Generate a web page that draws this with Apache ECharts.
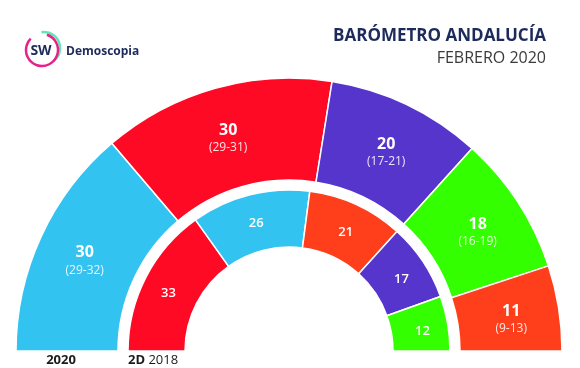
<!DOCTYPE html>
<html>
<head>
<meta charset="utf-8">
<script src="https://cdn.jsdelivr.net/npm/echarts@6/dist/echarts.min.js"></script>
<style>
html,body{margin:0;padding:0;background:#fff;}
#c{width:580px;height:368px;}
</style>
</head>
<body>
<div id="c"></div>
<script>
// 2020 (outer ring)
var parties2020 = ['PP', 'PSOE', 'Adelante Andalucía', 'Vox', 'Cs'];
var seats2020 = [30, 30, 20, 18, 11];
var ranges2020 = ['(29-32)', '(29-31)', '(17-21)', '(16-19)', '(9-13)'];
var colors2020 = ['#33c3f1', '#ff0a25', '#5535cb', '#33ff00', '#ff3f1b'];
// 2D 2018 (inner ring)
var parties2018 = ['PSOE', 'PP', 'Cs', 'Adelante Andalucía', 'Vox'];
var seats2018 = [33, 26, 21, 17, 12];
var colors2018 = ['#ff0a25', '#33c3f1', '#ff3f1b', '#5535cb', '#33ff00'];

var FONT = '"Open Sans", "Noto Sans", sans-serif';
var chart = echarts.init(document.getElementById('c'), null, {renderer: 'canvas'});

var outerData = seats2020.map(function (v, i) {
  return {name: parties2020[i], value: v, range: ranges2020[i], itemStyle: {color: colors2020[i]}};
});
var innerData = seats2018.map(function (v, i) {
  return {name: parties2018[i], value: v, itemStyle: {color: colors2018[i]}};
});

var CX = 289, CY = 351;

chart.setOption({
  animation: false,
  backgroundColor: '#fff',
  series: [
    {
      type: 'pie',
      center: [CX, CY],
      radius: [171, 273],
      startAngle: 180,
      endAngle: 0,
      clockwise: true,
      silent: true,
      itemStyle: {borderColor: '#fff', borderWidth: 1.5},
      label: {
        show: true,
        position: 'inside',
        offset: [0, 4],
        color: '#fff',
        fontFamily: FONT,
        formatter: function (p) { return '{a|' + p.value + '}\n{b|' + p.data.range + '}'; },
        rich: {
          a: {fontSize: 16, fontWeight: 'bold', color: '#fff', fontFamily: FONT, lineHeight: 19},
          b: {fontSize: 12, color: 'rgba(255,255,255,0.88)', fontFamily: FONT, lineHeight: 16}
        }
      },
      labelLine: {show: false},
      data: outerData
    },
    {
      type: 'pie',
      center: [CX, CY],
      radius: [104, 161],
      startAngle: 180,
      endAngle: 0,
      clockwise: true,
      silent: true,
      itemStyle: {borderColor: '#fff', borderWidth: 1.5},
      label: {
        show: true,
        position: 'inside',
        offset: [0, 4],
        color: '#fff',
        fontFamily: FONT,
        fontSize: 13,
        fontWeight: 600,
        formatter: '{c}'
      },
      labelLine: {show: false},
      data: innerData
    }
  ],
  graphic: [
    {type: 'text', right: 34, top: 28, style: {text: 'BARÓMETRO ANDALUCÍA', font: 'bold 17px ' + FONT, fill: '#1d2b5b', textAlign: 'right'}},
    {type: 'text', right: 34, top: 50, style: {text: 'FEBRERO 2020', font: '16px ' + FONT, fill: '#3a3a3a', textAlign: 'right'}},
    // logo
    {type: 'arc', shape: {cx: 44, cy: 48, r: 16, startAngle: -Math.PI * 0.55, endAngle: Math.PI * 0.3, clockwise: true}, style: {stroke: '#5ee8b5', lineWidth: 2.5, fill: null}},
    {type: 'arc', shape: {cx: 42, cy: 50, r: 16, startAngle: -Math.PI * 0.4, endAngle: Math.PI * 1.25, clockwise: true}, style: {stroke: '#e8208a', lineWidth: 2.5, fill: null}},
    {type: 'text', x: 41, y: 51, style: {text: 'SW', font: 'bold 14px ' + FONT, fill: '#1d2b5b', textAlign: 'center', textVerticalAlign: 'middle'}},
    {type: 'text', x: 66, y: 52, style: {text: 'Demoscopia', font: 'bold 12px ' + FONT, fill: '#1d2b5b', textAlign: 'left', textVerticalAlign: 'middle'}},
    // ring labels
    {type: 'text', x: 61, y: 360, style: {text: '2020', font: 'bold 13px ' + FONT, fill: '#1a1a1a', textAlign: 'center', textVerticalAlign: 'middle'}},
    {type: 'text', x: 128, y: 360, style: {
      text: '{b|2D} {r|2018}', textAlign: 'left', textVerticalAlign: 'middle',
      rich: {b: {font: 'bold 13px ' + FONT, fill: '#1a1a1a'}, r: {font: '13px ' + FONT, fill: '#1a1a1a'}}
    }}
  ]
});
</script>
</body>
</html>
